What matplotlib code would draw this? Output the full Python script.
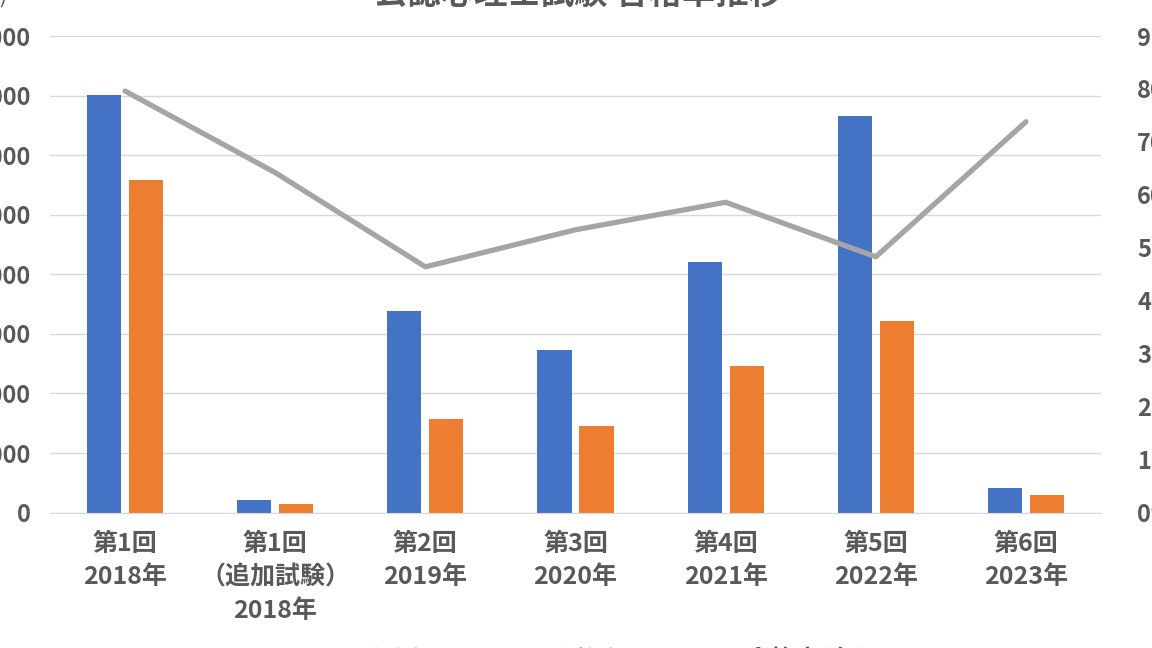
import matplotlib
matplotlib.use('Agg')
import matplotlib.pyplot as plt
from matplotlib.ticker import FuncFormatter, PercentFormatter
from matplotlib.lines import Line2D
from matplotlib.patches import Patch
import numpy as np

plt.rcParams['font.family'] = ['Noto Sans CJK JP', 'DejaVu Sans']

# data
categories = ['第1回\n2018年', '第1回\n（追加試験）\n2018年', '第2回\n2019年',
              '第3回\n2020年', '第4回\n2021年', '第5回\n2022年', '第6回\n2023年']
examinees = [35020, 1083, 16949, 13629, 21055, 33296, 2020]
passed = [27876, 695, 7864, 7282, 12329, 16084, 1491]
pass_rate = [79.6, 64.2, 46.4, 53.4, 58.6, 48.3, 73.8]

BLUE = '#4472C4'
ORANGE = '#ED7D31'
GRAY = '#A5A5A5'
TEXT = '#595959'
GRID = '#D9D9D9'

W, H = 1152, 648
fig = plt.figure(figsize=(W / 100, H / 100), dpi=100)
# plot area in pixels: x 50..1101, y 36..512
ax = fig.add_axes([50 / W, (H - 512.5) / H, (1101 - 50) / W, (512.5 - 36) / H])

x = np.arange(len(categories))
bw = 0.227
ax.bar(x - 0.14, examinees, bw, color=BLUE, zorder=2)
ax.bar(x + 0.14, passed, bw, color=ORANGE, zorder=2)

ax.set_xlim(-0.5, len(categories) - 0.5)
ax.set_ylim(0, 40000)
ax.set_yticks(np.arange(0, 40001, 5000))
ax.yaxis.set_major_formatter(FuncFormatter(lambda v, p: f'{int(v):,}'))
ax.yaxis.grid(True, color=GRID, linewidth=1, zorder=0)
ax.set_axisbelow(True)
ax.set_xticks(x)
ax.set_xticklabels(categories, linespacing=1.5, fontweight='bold')
for t in ax.get_yticklabels():
    t.set_fontweight('bold')
ax.tick_params(axis='y', length=0, pad=14, labelsize=17, labelcolor=TEXT)
ax.tick_params(axis='x', length=0, pad=14, labelsize=18, labelcolor=TEXT)
for s in ['top', 'left', 'right']:
    ax.spines[s].set_visible(False)
ax.spines['bottom'].set_color(GRID)

ax2 = ax.twinx()
ax2.plot(x, np.array(pass_rate) / 100, color=GRAY, linewidth=3.8,
         solid_capstyle='round', solid_joinstyle='round', zorder=3)
ax2.set_ylim(0, 0.9)
ax2.set_yticks(np.arange(0, 0.91, 0.1))
ax2.yaxis.set_major_formatter(PercentFormatter(1.0, decimals=0))
ax2.tick_params(axis='y', length=0, pad=26, labelsize=17, labelcolor=TEXT)
for t in ax2.get_yticklabels():
    t.set_fontweight('bold')
for s in ['top', 'left', 'right', 'bottom']:
    ax2.spines[s].set_visible(False)

# title and unit label sit partly outside the canvas, as in the reference
fig.text(578 / W, 1 + 6 / H, '公認心理士試験 合格率推移', ha='center', va='center',
         fontsize=24, fontweight='bold', color=TEXT)
fig.text(7 / W, 1 + 4 / H, '(人)', ha='right', va='center', fontsize=16, color=TEXT)

handles = [Patch(color=BLUE), Patch(color=ORANGE), Line2D([], [], color=GRAY, linewidth=3.8)]
fig.legend(handles, ['受験者数', '合格者数', '合格率(右)'], loc='center',
           bbox_to_anchor=(590 / W, -12 / H), ncol=3, frameon=False,
           prop={'size': 18, 'weight': 'bold'}, labelcolor=TEXT,
           handlelength=0.8, columnspacing=2.2)

fig.savefig('out.png', dpi=100)
